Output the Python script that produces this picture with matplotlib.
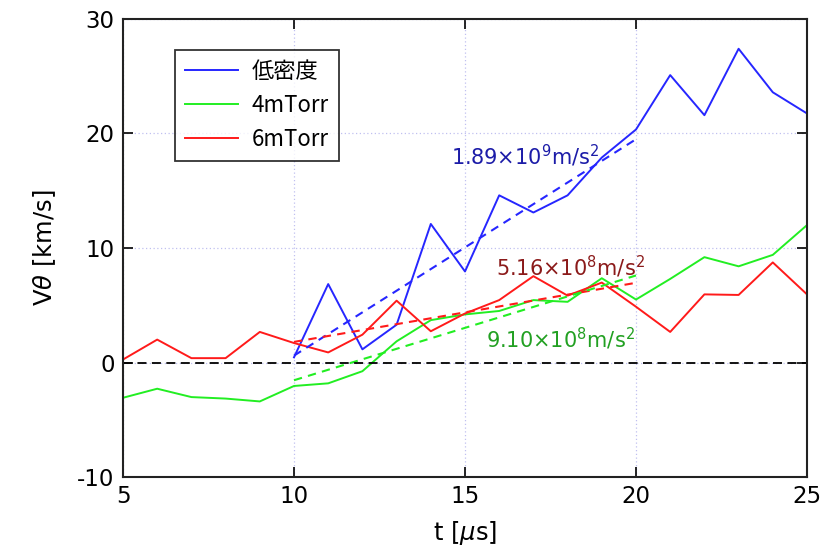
import matplotlib
matplotlib.use("Agg")
import matplotlib.pyplot as plt

plt.rcParams['font.family'] = ['DejaVu Sans', 'Noto Sans CJK JP']
plt.rcParams['mathtext.fontset'] = 'dejavusans'
plt.rcParams['axes.unicode_minus'] = False

# Data
t_all = [5, 6, 7, 8, 9, 10, 11, 12, 13, 14, 15, 16, 17, 18, 19, 20, 21, 22, 23, 24, 25]
t_blue = [10, 11, 12, 13, 14, 15, 16, 17, 18, 19, 20, 21, 22, 23, 24, 25]
v_blue = [0.45, 6.85, 1.15, 3.3, 12.1, 7.95, 14.6, 13.1, 14.6, 17.9, 20.35, 25.1, 21.6, 27.4, 23.6, 21.75]
v_green = [-3.08, -2.29, -3.02, -3.15, -3.4, -2.05, -1.82, -0.76, 1.85, 3.7, 4.2, 4.5, 5.45, 5.3, 7.36, 5.5, 7.3, 9.2, 8.4, 9.4, 12.0]
v_red = [0.26, 2.0, 0.38, 0.38, 2.67, 1.7, 0.88, 2.43, 5.4, 2.73, 4.28, 5.45, 7.54, 5.84, 6.98, 4.87, 2.67, 5.95, 5.9, 8.74, 5.95]

# Fit lines (endpoints)
fit_t = [10, 20]
fit_blue = [0.6, 19.5]
fit_red = [1.8, 6.96]
fit_green = [-1.55, 7.6]

labels = ['低密度', '4mTorr', '6mTorr']
ann_texts = [r'1.89$\times$10$^{9}$m/s$^{2}$', r'5.16$\times$10$^{8}$m/s$^{2}$', r'9.10$\times$10$^{8}$m/s$^{2}$']

c_blue = '#2626ff'
c_green = '#22ee22'
c_red = '#ff1a1a'

fig = plt.figure(figsize=(8.21, 5.59), dpi=100)
ax = fig.add_axes([123/821, 1-477/559, (807-123)/821, (477-19)/559])

ax.plot(t_blue, v_blue, color=c_blue, lw=1.4, label=labels[0])
ax.plot(t_all, v_green, color=c_green, lw=1.4, label=labels[1])
ax.plot(t_all, v_red, color=c_red, lw=1.4, label=labels[2])

ax.plot(fit_t, fit_blue, color=c_blue, lw=1.5, ls=(0, (4, 3)))
ax.plot(fit_t, fit_red, color=c_red, lw=1.5, ls=(0, (4, 3)))
ax.plot(fit_t, fit_green, color=c_green, lw=1.5, ls=(0, (4, 3)))

ax.axhline(0, color='black', lw=1.3, ls=(0, (5, 3)))

ax.text(14.6, 17.3, ann_texts[0], color='#1c1ca8', fontsize=15)
ax.text(15.9, 7.6, ann_texts[1], color='#8b1a1a', fontsize=15)
ax.text(15.6, 1.3, ann_texts[2], color='#22a022', fontsize=15)

ax.set_xlim(5, 25)
ax.set_ylim(-10, 30)
ax.set_xticks([5, 10, 15, 20, 25])
ax.set_yticks([-10, 0, 10, 20, 30])
ax.grid(True, color='#c0c0f0', ls=(0, (1, 2)), lw=0.9)
ax.tick_params(direction='in', top=True, right=True, length=7, width=1.2, labelsize=16.5, pad=6)
for s in ax.spines.values():
    s.set_linewidth(1.5)
    s.set_color('#222222')

ax.set_xlabel(r't [$\mu$s]', fontsize=17.5, labelpad=8)
ax.set_ylabel(r'V$\theta$ [km/s]', fontsize=17.5, labelpad=14)

leg = ax.legend(loc='upper left', bbox_to_anchor=((175-123)/684, 1-(50-19)/458),
                borderaxespad=0,
                frameon=True, fancybox=False, edgecolor='black', handlelength=2.4,
                borderpad=0.45, labelspacing=0.5, handletextpad=0.6,
                prop={'family': ['Noto Sans CJK JP'], 'size': 16})
leg.get_frame().set_linewidth(1.3)

fig.savefig('out.png', dpi=100)
